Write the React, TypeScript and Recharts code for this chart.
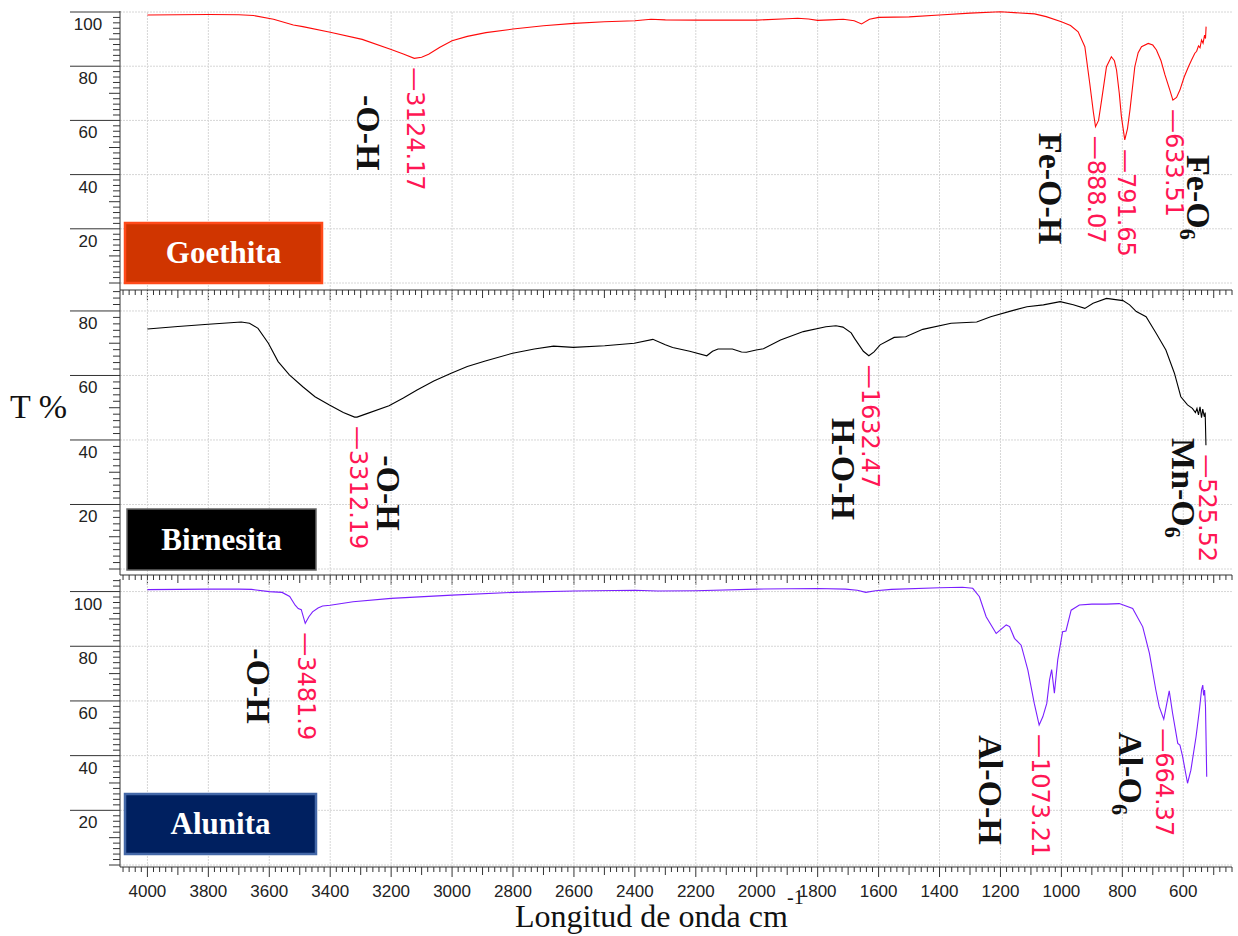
import React from "react";
import { LineChart, Line, XAxis, YAxis, ReferenceLine, ReferenceDot } from "recharts";

// ---------- data (wavenumber cm-1, transmittance %) ----------
const goethita: [number, number][] = [
  [4000, 98.9], [3900, 99.0], [3800, 99.1], [3700, 99.0], [3652, 98.7], [3586, 97.3], [3521, 95.2],
  [3490, 94.6], [3400, 92.5], [3295, 89.9], [3200, 86.2], [3160, 84.5], [3124, 82.9], [3100, 83.3],
  [3077, 84.4], [3040, 87.0], [3000, 89.4], [2950, 91.0], [2889, 92.4], [2800, 93.7], [2700, 94.9],
  [2600, 95.8], [2500, 96.4], [2400, 96.8], [2347, 97.3], [2300, 97.1], [2200, 97.0], [2100, 97.0],
  [2000, 97.0], [1900, 97.5], [1866, 97.7], [1830, 97.4], [1800, 96.9], [1760, 97.1], [1716, 97.3],
  [1680, 96.8], [1656, 95.6], [1630, 97.3], [1600, 98.0], [1500, 98.2], [1400, 98.9], [1300, 99.6],
  [1200, 100.1], [1088, 99.3], [1050, 98.3], [1000, 96.4], [970, 95.0], [945, 92.7], [923, 87.2],
  [907, 73.7], [895, 63.0], [888, 57.7], [878, 60.0], [868, 67.5], [852, 79.8], [836, 83.5],
  [826, 82.0], [819, 78.6], [810, 70.0], [803, 61.4], [792, 52.8], [783, 57.0], [775, 63.8],
  [759, 79.8], [748, 85.0], [737, 87.2], [715, 88.4], [700, 87.8], [688, 86.0], [673, 82.0],
  [660, 76.8], [644, 71.2], [634, 67.5], [622, 68.5], [611, 71.2], [597, 76.0], [583, 79.8],
  [572, 82.5], [562, 84.8], [556, 85.5], [550, 87.5], [545, 86.8], [540, 89.7], [535, 88.5],
  [530, 91.5], [527, 90.2], [525, 94.6],
];

const birnesita: [number, number][] = [
  [4000, 74.4], [3900, 75.2], [3800, 75.9], [3692, 76.6], [3665, 76.2], [3637, 74.6], [3603, 70.0],
  [3571, 64.3], [3534, 60.2], [3490, 56.5], [3450, 53.4], [3404, 50.9], [3357, 48.5], [3320, 47.1],
  [3312, 47.1], [3282, 48.1], [3207, 50.6], [3160, 53.0], [3115, 55.5], [3060, 58.3], [3003, 60.7],
  [2950, 62.8], [2891, 64.5], [2801, 66.9], [2730, 68.2], [2667, 69.1], [2602, 68.7], [2499, 69.2],
  [2402, 70.0], [2341, 71.2], [2300, 69.5], [2276, 68.7], [2220, 67.5], [2164, 66.1], [2145, 67.5],
  [2127, 68.2], [2080, 68.2], [2050, 67.3], [2034, 67.2], [2002, 67.9], [1978, 68.3], [1922, 71.0],
  [1847, 73.6], [1773, 75.1], [1740, 75.4], [1717, 75.0], [1690, 73.2], [1679, 71.5], [1650, 67.5],
  [1632, 66.1], [1615, 67.3], [1595, 69.5], [1549, 71.8], [1511, 72.0], [1455, 74.3], [1362, 76.2],
  [1278, 76.6], [1232, 78.2], [1161, 80.1], [1113, 81.3], [1059, 81.9], [1004, 82.9], [961, 81.9],
  [923, 80.8], [896, 82.4], [852, 83.9], [798, 83.2], [776, 81.9], [754, 79.8], [722, 78.2],
  [689, 73.1], [657, 67.9], [629, 60.7], [608, 53.4], [586, 50.9], [570, 49.8], [560, 48.5],
  [555, 49.8], [550, 47.8], [545, 50.3], [540, 46.9], [536, 49.6], [531, 47.2], [528, 48.5],
  [525.5, 38.4],
];

const alunita: [number, number][] = [
  [4000, 100.7], [3900, 100.8], [3800, 100.9], [3700, 100.9], [3658, 100.8], [3600, 100.0],
  [3558, 99.7], [3533, 98.2], [3515, 95.0], [3505, 93.8], [3495, 93.4], [3482, 88.4], [3470, 90.8],
  [3458, 92.6], [3440, 94.0], [3425, 94.7], [3400, 95.0], [3325, 96.3], [3200, 97.5], [3000, 98.7],
  [2800, 99.7], [2600, 100.2], [2400, 100.5], [2325, 100.2], [2200, 100.3], [2000, 100.9],
  [1800, 101.1], [1708, 100.9], [1670, 100.5], [1642, 99.7], [1610, 100.3], [1558, 100.8],
  [1400, 101.4], [1325, 101.6], [1291, 101.2], [1269, 98.1], [1247, 90.8], [1214, 84.7],
  [1181, 87.8], [1170, 87.2], [1154, 82.9], [1132, 80.4], [1110, 71.3], [1089, 59.1], [1073, 51.2],
  [1061, 54.2], [1048, 59.1], [1039, 67.6], [1032, 71.5], [1023, 62.8], [1012, 75.0], [996, 85.3],
  [985, 85.6], [968, 93.2], [941, 95.1], [900, 95.4], [853, 95.4], [810, 95.6], [766, 93.8],
  [733, 87.1], [711, 77.4], [690, 64.0], [679, 57.9], [664, 53.3], [654, 59.1], [646, 63.7],
  [635, 55.5], [618, 44.5], [611, 43.9], [602, 39.6], [586, 29.9], [575, 34.7], [558, 46.9],
  [547, 56.7], [540, 64.0], [536, 65.8], [533, 62.0], [530, 64.0], [527, 58.0], [523, 32.3],
];

// peak labels (wavenumber, T at minimum, text)
const goethitaPeaks = [
  { wn: 3124.17, t: 82.9, label: "3124.17" },
  { wn: 888.07, t: 57.7, label: "888.07" },
  { wn: 791.65, t: 52.8, label: "791.65" },
  { wn: 633.51, t: 67.5, label: "633.51" },
];
const birnesitaPeaks = [
  { wn: 3312.19, t: 47.1, label: "3312.19" },
  { wn: 1632.47, t: 66.1, label: "1632.47" },
  { wn: 525.52, t: 38.4, label: "525.52" },
];
const alunitaPeaks = [
  { wn: 3481.9, t: 88.4, label: "3481.9" },
  { wn: 1073.21, t: 51.2, label: "1073.21" },
  { wn: 664.37, t: 53.3, label: "664.37" },
];

// band assignments (anchor = top-centre of the rotated label)
const goethitaBands = [
  { wn: 3275, t: 69.4, text: "-O-H", sub: "" },
  { wn: 1036, t: 55.4, text: "Fe-O-H", sub: "" },
  { wn: 551, t: 47.2, text: "Fe-O", sub: "6" },
];
const birnesitaBands = [
  { wn: 3209, t: 35.3, text: "-O-H", sub: "" },
  { wn: 1716, t: 46.8, text: "H-O-H", sub: "" },
  { wn: 600, t: 40.6, text: "Mn-O", sub: "6" },
];
const alunitaBands = [
  { wn: 3636, t: 79.3, text: "-O-H", sub: "" },
  { wn: 1233, t: 47.5, text: "Al-O-H", sub: "" },
  { wn: 774, t: 48.6, text: "Al-O", sub: "6" },
];

const xLabelTicks = [4000, 3800, 3600, 3400, 3200, 3000, 2800, 2600, 2400, 2200, 2000, 1800, 1600, 1400, 1200, 1000, 800, 600];
const yLabels1 = [20, 40, 60, 80, 100];
const yLabels2 = [20, 40, 60, 80];
const yLabels3 = [20, 40, 60, 80, 100];

const xMinorTicks: number[] = [];
for (let v = 440; v <= 4080; v += 20) xMinorTicks.push(v);
const evenTicks = (max: number) => {
  const a: number[] = [];
  for (let v = 0; v <= max; v += 2) a.push(v);
  return a;
};

// ---------- styling ----------
const W = 1238;
const H = 936;
const AXIS_X = 120;
const RED = "#ff1654";
const GRID = "#d6d6d6";
const AX = "#333";
const SANS = "'Liberation Sans', Arial, sans-serif";
const SERIF = "'Liberation Serif', 'Times New Roman', serif";

const makeYTick = (labels: number[]) => (props: any) => {
  const { y, payload } = props;
  const v = payload.value;
  const major = labels.indexOf(v) >= 0;
  const len = major ? 50 : v % 10 === 0 ? 11 : 7;
  return (
    <g>
      <line x1={AXIS_X - len} x2={AXIS_X} y1={y} y2={y} stroke={AX} strokeWidth={1} />
      {major && (
        <text x={88} y={y + 18} textAnchor="middle" fontSize={17} fontFamily={SANS} fill="#222">
          {v}
        </text>
      )}
    </g>
  );
};

const makeXTick = (axisY: number, labels: boolean) => (props: any) => {
  const { x, payload } = props;
  const v = payload.value;
  const len = v % 200 === 0 ? 10 : v % 100 === 0 ? 8 : 5;
  const showLabel = labels && xLabelTicks.indexOf(v) >= 0;
  return (
    <g>
      <line x1={x} x2={x} y1={axisY} y2={axisY + len} stroke={AX} strokeWidth={1} />
      {showLabel && (
        <text x={x} y={axisY + 30} textAnchor="middle" fontSize={17} fontFamily={SANS} fill="#222">
          {v}
        </text>
      )}
    </g>
  );
};

const PeakLabel = (props: any) => {
  const { cx, cy, text } = props;
  const fs = 24;
  if (cx == null || cy == null) return null;
  return (
    <text
      transform={`translate(${cx},${cy + 9}) rotate(90)`}
      x={0}
      y={fs * 0.3}
      fontSize={fs}
      fontFamily="'DejaVu Sans', sans-serif"
      fill={RED}
    >
      {"\u2014" + text}
    </text>
  );
};

const BandLabel = (props: any) => {
  const { cx, cy, text, sub } = props;
  const fs = 34;
  if (cx == null || cy == null) return null;
  return (
    <text
      transform={`translate(${cx},${cy}) rotate(90)`}
      x={0}
      y={fs * 0.33}
      fontSize={fs}
      fontWeight="bold"
      fontFamily={SERIF}
      fill="#111"
    >
      {text}
      {sub ? (
        <tspan fontSize={fs * 0.65} dy={fs * 0.2}>
          {sub}
        </tspan>
      ) : null}
    </text>
  );
};

type PanelProps = {
  series: [number, number][];
  color: string;
  top: number;
  bottom: number;
  yDomain: [number, number];
  yMax: number;
  yLabels: number[];
  showXLabels: boolean;
  peaks: { wn: number; t: number; label: string }[];
  bands: { wn: number; t: number; text: string; sub: string }[];
};

const Panel = ({ series, color, top, bottom, yDomain, yMax, yLabels, showXLabels, peaks, bands }: PanelProps) => {
  const data = series.map(([wn, t]) => ({ wn, t }));
  const yGrid = [0, 20, 40, 60, 80, 100].filter((v) => v <= yMax);
  return (
    <div style={{ position: "absolute", left: 0, top: 0 }}>
      <LineChart width={W} height={H} data={data} margin={{ top, right: 6, bottom: H - bottom - 20, left: 0 }}>
        <XAxis
          type="number"
          dataKey="wn"
          domain={[440, 4090]}
          reversed
          allowDataOverflow
          ticks={xMinorTicks}
          interval={0}
          tickSize={0}
          tickMargin={0}
          height={20}
          tickLine={false}
          axisLine={{ stroke: AX, strokeWidth: 1 }}
          tick={makeXTick(bottom, showXLabels)}
        />
        <YAxis
          type="number"
          domain={yDomain}
          allowDataOverflow
          ticks={evenTicks(yMax)}
          interval={0}
          width={AXIS_X}
          tickSize={0}
          tickMargin={0}
          tickLine={false}
          axisLine={{ stroke: AX, strokeWidth: 1 }}
          tick={makeYTick(yLabels)}
        />
        {xLabelTicks.map((v) => (
          <ReferenceLine key={"gx" + v} x={v} stroke={GRID} strokeDasharray="2 1" strokeWidth={1} />
        ))}
        {yGrid.map((v) => (
          <ReferenceLine key={"gy" + v} y={v} stroke={GRID} strokeDasharray="2 1" strokeWidth={1} />
        ))}
        <Line
          type="linear"
          dataKey="t"
          stroke={color}
          strokeWidth={1.1}
          dot={false}
          activeDot={false}
          isAnimationActive={false}
        />
        {peaks.map((p) => (
          <ReferenceDot
            key={"p" + p.label}
            x={p.wn}
            y={p.t}
            r={0}
            shape={(sp: any) => <PeakLabel cx={sp.cx} cy={sp.cy} text={p.label} />}
          />
        ))}
        {bands.map((b) => (
          <ReferenceDot
            key={"b" + b.text + b.wn}
            x={b.wn}
            y={b.t}
            r={0}
            shape={(sp: any) => <BandLabel cx={sp.cx} cy={sp.cy} text={b.text} sub={b.sub} />}
          />
        ))}
      </LineChart>
    </div>
  );
};

const LegendBox = ({ x, y, w, h, fill, stroke, sw, text }: any) => (
  <g>
    <rect x={x} y={y} width={w} height={h} fill={fill} stroke={stroke} strokeWidth={sw} />
    <text
      x={x + w / 2}
      y={y + h / 2 + 10}
      textAnchor="middle"
      fontSize={31}
      fontWeight="bold"
      fontFamily={SERIF}
      fill="#fff"
    >
      {text}
    </text>
  </g>
);

export default function App() {
  return (
    <div style={{ position: "absolute", left: 0, top: 0, width: W, height: H, background: "#fff", overflow: "hidden" }}>
      <Panel
        series={goethita}
        color="#ff0a0a"
        top={11}
        bottom={290}
        yDomain={[-2.58, 100.37]}
        yMax={100}
        yLabels={yLabels1}
        showXLabels={false}
        peaks={goethitaPeaks}
        bands={goethitaBands}
      />
      <Panel
        series={birnesita}
        color="#000000"
        top={290}
        bottom={575}
        yDomain={[-1.86, 86.5]}
        yMax={86}
        yLabels={yLabels2}
        showXLabels={false}
        peaks={birnesitaPeaks}
        bands={birnesitaBands}
      />
      <Panel
        series={alunita}
        color="#7a1fff"
        top={579}
        bottom={867}
        yDomain={[-0.73, 104.6]}
        yMax={104}
        yLabels={yLabels3}
        showXLabels={true}
        peaks={alunitaPeaks}
        bands={alunitaBands}
      />
      <svg width={W} height={H} style={{ position: "absolute", left: 0, top: 0 }}>
        <LegendBox x={125} y={223} w={197} h={60} fill="#d03500" stroke="#ff4a1a" sw={2.5} text="Goethita" />
        <LegendBox x={127} y={509} w={189} h={61} fill="#000000" stroke="#666666" sw={1.5} text="Birnesita" />
        <LegendBox x={125} y={794} w={191} h={60} fill="#002060" stroke="#4468a8" sw={2.5} text="Alunita" />
        <text x={10} y={418} fontSize={34} fontFamily={SERIF} fill="#111">
          T %
        </text>
        <text x={515} y={927} fontSize={32} fontFamily={SERIF} fill="#111">
          Longitud de onda cm
        </text>
        <text x={787} y={904} fontSize={20} fontFamily={SERIF} fill="#111">
          -1
        </text>
      </svg>
    </div>
  );
}
